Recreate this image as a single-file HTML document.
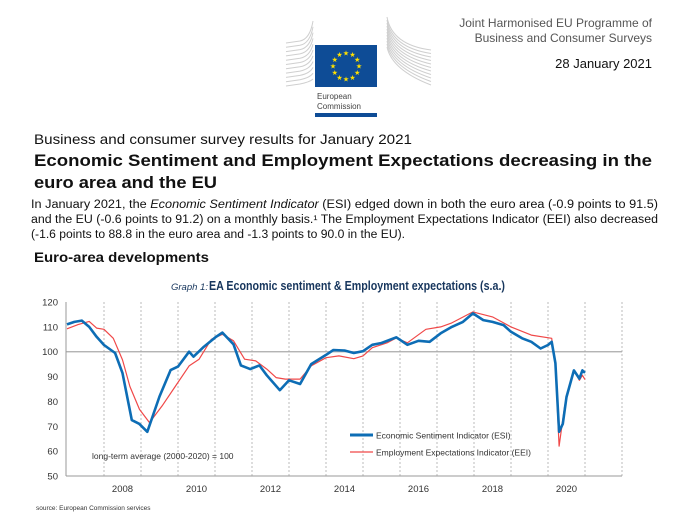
<!DOCTYPE html>
<html><head><meta charset="utf-8"><style>
html,body{margin:0;padding:0;background:#fff;width:679px;height:516px;overflow:hidden}
svg{display:block}
</style></head><body>
<svg width="679" height="516" viewBox="0 0 679 516" xmlns="http://www.w3.org/2000/svg">
<g>
  <g id="logolines" stroke="#cfcfcf" stroke-width="1" fill="none"></g>
  <rect x="315" y="45" width="62" height="42" fill="#0e4c96"/>
  <g id="stars" fill="#ffe000"></g>
  <text x="317" y="99" font-family="Liberation Sans, sans-serif" font-size="8" fill="#444">European</text>
  <text x="317" y="109" font-family="Liberation Sans, sans-serif" font-size="8" fill="#444">Commission</text>
  <rect x="315" y="113" width="62" height="4" fill="#0e4c96"/>
</g>
<g font-family="Liberation Sans, sans-serif" fill="#555" font-size="12" text-anchor="end">
  <text x="652" y="27">Joint Harmonised EU Programme of</text>
  <text x="652" y="42">Business and Consumer Surveys</text>
  <text x="652" y="68" fill="#111" font-size="13">28 January 2021</text>
</g>
<g font-family="Liberation Sans, DejaVu Sans, sans-serif" fill="#111">
  <text x="34" y="144" font-size="14" textLength="378" lengthAdjust="spacingAndGlyphs">Business and consumer survey results for January 2021</text>
  <text x="34" y="166" font-size="17" font-weight="bold" textLength="618" lengthAdjust="spacingAndGlyphs">Economic Sentiment and Employment Expectations decreasing in the</text>
  <text x="34" y="188" font-size="17" font-weight="bold" textLength="183" lengthAdjust="spacingAndGlyphs">euro area and the EU</text>
  <text x="31" y="208" font-size="11.5" textLength="627" lengthAdjust="spacingAndGlyphs">In January 2021, the <tspan font-style="italic">Economic Sentiment Indicator</tspan> (ESI) edged down in both the euro area (-0.9 points to 91.5)</text>
  <text x="31" y="223" font-size="11.5" textLength="627" lengthAdjust="spacingAndGlyphs">and the EU (-0.6 points to 91.2) on a monthly basis.¹ The Employment Expectations Indicator (EEI) also decreased</text>
  <text x="31" y="238" font-size="11.5" textLength="374" lengthAdjust="spacingAndGlyphs">(-1.6 points to 88.8 in the euro area and -1.3 points to 90.0 in the EU).</text>
  <text x="34" y="262" font-size="14" font-weight="bold" textLength="175" lengthAdjust="spacingAndGlyphs">Euro-area developments</text>
</g>
<g font-family="Liberation Sans, sans-serif">
  <text x="171" y="290" font-size="9.5" font-style="italic" fill="#17365d">Graph 1:</text>
  <text x="209" y="290" font-size="12.5" font-weight="bold" fill="#17365d" textLength="296" lengthAdjust="spacingAndGlyphs">EA Economic sentiment &amp; Employment expectations (s.a.)</text>
  <g id="grid"></g>
  <g id="axes"></g>
  <g id="series"></g>
  <text x="92" y="459" font-size="8.5" fill="#333">long-term average (2000-2020) = 100</text>
  <g>
    <line x1="350" y1="435" x2="373" y2="435" stroke="#0d6db5" stroke-width="3"/>
    <text x="376" y="438.5" font-size="8.5" fill="#333">Economic Sentiment Indicator (ESI)</text>
    <line x1="350" y1="452" x2="373" y2="452" stroke="#f04848" stroke-width="1.3"/>
    <text x="376" y="455.5" font-size="8.5" fill="#333">Employment Expectations Indicator (EEI)</text>
  </g>
  <text x="36" y="510" font-size="6.5" fill="#333">source: European Commission services</text>
</g>
<script>
const yTicks=[50,60,70,80,90,100,110,120];
const xLabels=[2008,2010,2012,2014,2016,2018,2020];
const esiT=[2007.0,2007.2,2007.4,2007.6,2007.8,2008.0,2008.3,2008.5,2008.75,2008.95,2009.17,2009.5,2009.8,2010.0,2010.3,2010.42,2010.7,2011.03,2011.2,2011.5,2011.7,2011.95,2012.2,2012.4,2012.75,2013.0,2013.3,2013.6,2014.0,2014.2,2014.5,2014.75,2015.0,2015.25,2015.5,2015.9,2016.2,2016.5,2016.8,2017.1,2017.4,2017.7,2017.97,2018.25,2018.5,2018.8,2019.0,2019.3,2019.55,2019.8,2020.0,2020.1,2020.2,2020.3,2020.4,2020.5,2020.7,2020.85,2020.93,2021.0];
const esiV=[111,112,112.5,110,106,102.7,99.5,91.4,72.5,71,67.8,82,92.6,94,100,98,102,106,107.7,103,94.5,93,94.5,90.5,84.5,88.5,87,95,98.7,100.7,100.5,99.5,100.2,102.8,103.5,105.8,102.8,104.4,104,107.4,110,112,115.4,112.7,112,110.7,108,105.4,104,101.3,102.7,104,95.4,67.8,71,81.8,92.5,89.2,92.5,91.5];
const eeiT=[2007.0,2007.3,2007.6,2007.8,2008.0,2008.25,2008.5,2008.7,2008.96,2009.23,2009.57,2009.97,2010.3,2010.57,2010.9,2011.2,2011.5,2011.8,2012.1,2012.4,2012.65,2012.9,2013.3,2013.6,2014.0,2014.35,2014.75,2015.0,2015.25,2015.65,2015.9,2016.2,2016.7,2017.1,2017.4,2017.97,2018.5,2019.0,2019.55,2020.1,2020.2,2020.3,2020.45,2020.7,2020.85,2020.93,2021.0];
const eeiV=[109.2,110.9,112.2,109.5,109,105.4,96.7,86,76.8,71.5,78.2,87,94.3,97,105,107,104.4,97,96.3,93,89.6,89,89,94.3,97.6,98.3,97.2,98.3,101.6,103.6,105.5,103.6,109,110,111.6,116,114,110,106.7,105.4,94.3,62,78.2,92.5,88.5,90.5,88.8];
const NS='http://www.w3.org/2000/svg';
const X0=66,X1=622,Y0=302,Y1=476;
function xs(t){return 104+(t-2008)*37;}
function ys(v){return Y0+(120-v)*(Y1-Y0)/70;}
function mk(tag,attrs,parent){const e=document.createElementNS(NS,tag);for(const k in attrs)e.setAttribute(k,attrs[k]);parent.appendChild(e);return e;}
const grid=document.getElementById('grid'),axes=document.getElementById('axes'),series=document.getElementById('series');
for(let yr=2008;yr<=2022;yr++){
  const l=mk('line',{x1:xs(yr),x2:xs(yr),y1:Y0,y2:Y1,stroke:'#bbb','stroke-width':1,'stroke-dasharray':'2,2'},grid);
  
  
}
const ref=mk('line',{x1:X0,x2:X1,y1:ys(100),y2:ys(100),stroke:'#aaa','stroke-width':1.2},grid);


const ya=mk('line',{x1:X0,x2:X0,y1:Y0,y2:Y1,stroke:'#999','stroke-width':1},axes);


const xa=mk('line',{x1:X0,x2:X1,y1:Y1,y2:Y1,stroke:'#999','stroke-width':1},axes);


yTicks.forEach(v=>{
  const t=mk('text',{x:58,y:ys(v)+3.5,'text-anchor':'end','font-size':9.5,fill:'#333'},axes);
  t.textContent=v;
  
  
});
xLabels.forEach(yr=>{
  const t=mk('text',{x:xs(yr+0.5),y:492,'text-anchor':'middle','font-size':9.5,fill:'#333'},axes);
  t.textContent=yr;
  
  
});
function path(T,V){return T.map((t,i)=>(i?'L':'M')+xs(t).toFixed(1)+','+ys(V[i]).toFixed(1)).join('');}
const eei=mk('path',{d:path(eeiT,eeiV),fill:'none',stroke:'#f04848','stroke-width':1.2,'stroke-linejoin':'round'},series);


const esi=mk('path',{d:path(esiT,esiV),fill:'none',stroke:'#0d6db5','stroke-width':2.6,'stroke-linejoin':'round'},series);


// logo lines
const ll=document.getElementById('logolines');
for(let i=0;i<11;i++){
  const y=40+i*4.3;
  mk('path',{d:`M286,${y+3} L300,${y+1} Q310,${y-1} ${313},${Math.max(17,y-4-(10-i)*1.5)}`},ll);
  mk('path',{d:`M387,${17+i*3} Q392,${45+i*2.5} 431,${50+i*3.5}`},ll);
}
const st=document.getElementById('stars');
for(let i=0;i<12;i++){const a=i*Math.PI/6;const cx=346+13*Math.sin(a),cy=66-13*Math.cos(a);
  const s=mk('text',{x:cx,y:cy+2.5,'text-anchor':'middle','font-size':7,'font-family':'DejaVu Sans, sans-serif'},st);s.textContent='★';}
</script>
</svg>
</body></html>
